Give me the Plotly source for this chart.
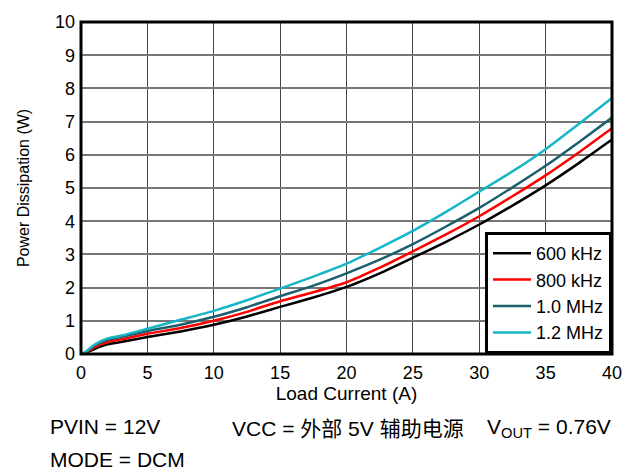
import plotly.graph_objects as go

load_current = [0, 0.3, 1.0, 2.0, 3.0, 5, 7.5, 10, 12.5, 15, 17.5, 20, 22.5, 25, 27.5, 30, 32.5, 35, 37.5, 40]
p_600k = [0.0, 0.02, 0.15, 0.29, 0.36, 0.51, 0.68, 0.88, 1.13, 1.42, 1.70, 2.02, 2.43, 2.90, 3.38, 3.90, 4.47, 5.08, 5.75, 6.46]
p_800k = [0.0, 0.03, 0.20, 0.36, 0.44, 0.61, 0.78, 1.00, 1.27, 1.59, 1.86, 2.16, 2.60, 3.09, 3.60, 4.15, 4.75, 5.38, 6.07, 6.80]
p_1m0 = [0.0, 0.04, 0.25, 0.43, 0.51, 0.69, 0.88, 1.12, 1.41, 1.74, 2.06, 2.43, 2.84, 3.31, 3.84, 4.40, 5.02, 5.67, 6.38, 7.12]
p_1m2 = [0.0, 0.05, 0.28, 0.47, 0.55, 0.76, 1.03, 1.30, 1.62, 1.97, 2.33, 2.72, 3.20, 3.71, 4.28, 4.89, 5.50, 6.17, 6.93, 7.71]

series_names = ["600 kHz", "800 kHz", "1.0 MHz", "1.2 MHz"]
series_values = [p_600k, p_800k, p_1m0, p_1m2]
series_colors = ["#000000", "#ff0000", "#1b5e6c", "#17b6c6"]

x_ticks = [0, 5, 10, 15, 20, 25, 30, 35, 40]
y_ticks = [0, 1, 2, 3, 4, 5, 6, 7, 8, 9, 10]

font_family = "Liberation Sans, Arial, sans-serif"

fig = go.Figure()
for name, vals, col in zip(series_names, series_values, series_colors):
    fig.add_trace(go.Scatter(x=load_current, y=vals, mode="lines", name=name,
                             line=dict(color=col, width=2.5, shape="spline", smoothing=0.5)))

fig.update_layout(
    width=641, height=474,
    margin=dict(l=81, r=29, t=15, b=120),
    plot_bgcolor="white", paper_bgcolor="white",
    font=dict(family=font_family, size=18, color="black"),
    showlegend=True,
    legend=dict(x=1, y=0, xanchor="right", yanchor="bottom",
                bgcolor="white", bordercolor="black", borderwidth=3,
                font=dict(size=18), tracegroupgap=0, itemwidth=38),
    xaxis=dict(range=[0, 40], tickvals=x_ticks, showgrid=True, gridcolor="#444444", gridwidth=1.3,
               zeroline=False, showline=False, ticks="", tickfont=dict(size=18),
               ticklabelstandoff=6,
               title=dict(text="Load Current (A)", font=dict(size=19), standoff=0)),
    yaxis=dict(range=[0, 10], tickvals=y_ticks, showgrid=True, gridcolor="#777777", gridwidth=2,
               zeroline=False, showline=False, ticks="", tickfont=dict(size=18),
               ticklabelstandoff=5,
               title=dict(text="Power Dissipation (W)", font=dict(size=16), standoff=21)),
)

fig.add_shape(type="rect", xref="paper", yref="paper", x0=0, y0=0, x1=1, y1=1,
              line=dict(color="black", width=3), layer="above")

notes = [
    (48, 428, "PVIN = 12V"),
    (48, 462, "MODE = DCM"),
    (230, 430, "VCC = 外部 5V 辅助电源"),
    (485, 430, "V<sub>OUT</sub> = 0.76V"),
]
for px, py, txt in notes:
    fig.add_annotation(xref="paper", yref="paper",
                       x=(px - 81) / (641 - 81 - 29), y=1 - (py - 15) / (474 - 15 - 120),
                       xanchor="left", yanchor="middle", showarrow=False, text=txt,
                       font=dict(size=21, family=font_family + ", Noto Sans CJK SC"))

fig.write_html("out.html", config={"displayModeBar": False},
               post_script="document.body.style.margin='0';document.body.style.padding='0';")
